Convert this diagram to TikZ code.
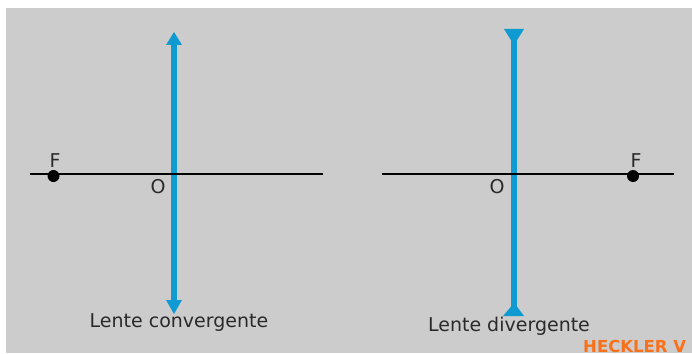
\documentclass[tikz,border=0pt]{standalone}
\usepackage{fontspec}
\setmainfont{DejaVu Sans}
\definecolor{panel}{HTML}{CCCCCC}
\definecolor{lens}{HTML}{0F9BD2}
\definecolor{ink}{HTML}{2A2A2A}
\definecolor{brand}{HTML}{F9711A}
\tikzset{
  axisline/.style={draw=black,line width=1.5pt},
  lensline/.style={draw=lens,line width=5.6pt},
  lenstip/.style={fill=lens,draw=none},
  focus/.style={circle,fill=black,inner sep=0pt,minimum size=12pt},
  lbl/.style={text=ink,inner sep=0pt,font=\fontsize{19}{22}\selectfont},
  captiontext/.style={text=ink,inner sep=0pt,font=\fontsize{19}{22}\selectfont},
}
\begin{document}
\begin{tikzpicture}[x=1pt,y=-1pt]
\path[use as bounding box] (0,0) rectangle (692,353);
\fill[white] (0,0) rectangle (692,353);
\fill[panel] (6,8) rectangle (692,353);
% left lens
\coordinate (la) at (30,174);
\coordinate (lb) at (323,174);
\coordinate (lt) at (174,42);
\coordinate (lu) at (174,303);
\draw[lensline] (lt) -- (lu);
\fill[lenstip] (174,32) -- (182,45) -- (166,45) -- cycle;
\fill[lenstip] (174,314) -- (182,300) -- (166,300) -- cycle;
\draw[axisline] (la) -- (lb);
\node[focus] (lf) at (53.5,176) {};
\node[lbl] (lF) at (55,160.5) {F};
\node[lbl] (lO) at (158,187) {O};
\node[captiontext] (lc) at (179,322.5) {Lente convergente};
% right lens
\coordinate (ra) at (382,174);
\coordinate (rb) at (674,174);
\coordinate (rt) at (514,35);
\coordinate (ru) at (514,312);
\draw[lensline] (rt) -- (ru);
\fill[lenstip] (504,29) -- (524,29) -- (516.5,41) -- (511.5,41) -- cycle;
\fill[lenstip] (503,316) -- (524,316) -- (516.5,306) -- (511.5,306) -- cycle;
\draw[axisline] (ra) -- (rb);
\node[focus] (rf) at (633,176) {};
\node[lbl] (rF) at (636,160.5) {F};
\node[lbl] (rO) at (497,187) {O};
\node[captiontext] (rc) at (509,326.5) {Lente divergente};
\node[anchor=base west,inner sep=0pt,text=brand,font=\fontsize{16.5}{18}\selectfont\bfseries] (brandmark) at (583,352) {HECKLER V};
\end{tikzpicture}
\end{document}
